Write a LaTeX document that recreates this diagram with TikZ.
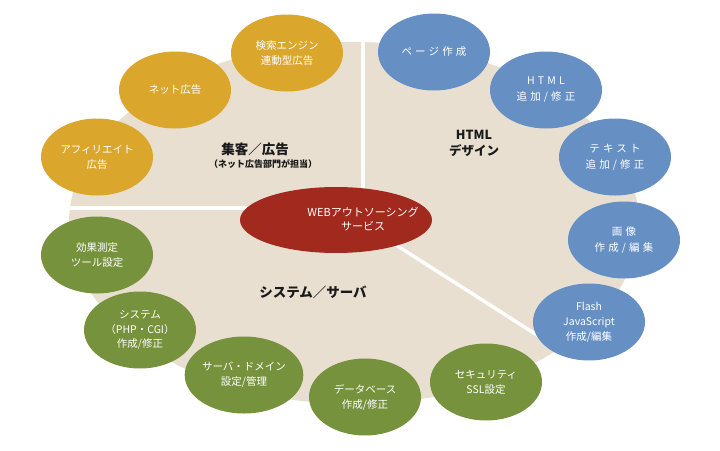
\documentclass[tikz,border=0pt]{standalone}
\usepackage{fontspec}
\setmainfont{Noto Sans CJK JP}
\newfontfamily\jpw[LetterSpace=30]{Noto Sans CJK JP}
\usetikzlibrary{shapes.geometric}
\definecolor{beige}{HTML}{E8DFD1}
\definecolor{gold}{HTML}{DAA62C}
\definecolor{bluenode}{HTML}{6690C4}
\definecolor{greennode}{HTML}{76923C}
\definecolor{rednode}{HTML}{A2291D}
\definecolor{labeltext}{HTML}{1A1A1A}
\begin{document}
\begin{tikzpicture}[x=1pt,y=-1pt,
 bubble/.style={ellipse, minimum width=112pt, minimum height=77pt, inner sep=0pt, text=white, align=center, font=\fontsize{10.5}{15}\selectfont},
 goldb/.style={bubble, fill=gold},
 blueb/.style={bubble, fill=bluenode, font=\jpw\fontsize{10.5}{16}\selectfont},
 greenb/.style={bubble, fill=greennode},
 sepline/.style={white, line width=3.5pt},
 region/.style={text=labeltext, align=center, font=\bfseries\fontsize{13.5}{16}\selectfont}]
\useasboundingbox (0,0) rectangle (720,450);
% base
\node[ellipse, fill=beige, minimum width=570pt, minimum height=362pt, inner sep=0pt] (base) at (354,223) {};
% separators
\coordinate (vA) at (363,0);
\coordinate (vB) at (363,215);
\coordinate (hA) at (0,208);
\coordinate (hB) at (300,208);
\coordinate (dA) at (360,222);
\coordinate (dB) at (620,388);
\begin{scope}
\clip (354,223) ellipse [x radius=285, y radius=181];
\draw[sepline] (vA) -- (vB);
\draw[sepline] (hA) -- (hB);
\draw[sepline] (dA) -- (dB);
\end{scope}
% core
\node[ellipse, fill=rednode, minimum width=192pt, minimum height=66pt, inner sep=0pt] (core) at (336,220) {};
\node[text=white, align=center, font=\fontsize{11}{14}\selectfont] (coretext) at (363,219) {WEBアウトソーシング\\サービス};
% gold
\node[goldb] (g1) at (287,53) {検索エンジン\\連動型広告};
\node[goldb] (g2) at (175,90) {ネット広告};
\node[goldb] (g3) at (97,157) {アフィリエイト\\広告};
% blue
\node[blueb] (b1) at (434,52) {ページ作成};
\node[blueb] (b2) at (546,90) {HTML\\追加/修正};
\node[blueb] (b3) at (615,157) {テキスト\\追加/修正};
\node[blueb] (b4) at (624,240) {画像\\作成/編集};
\node[bubble, fill=bluenode] (b5) at (589,322) {Flash\\JavaScript\\作成/編集};
% green
\node[greenb] (gr1) at (97,255) {効果測定\\ツール設定};
\node[greenb, font=\fontsize{10.5}{14.5}\selectfont] (gr2) at (140,330) {システム\\（PHP・CGI）\\作成/修正};
\node[greenb] (gr3) at (244,375) {サーバ・ドメイン\\設定/管理};
\node[greenb] (gr4) at (365,397) {データベース\\作成/修正};
\node[greenb] (gr5) at (486,382) {セキュリティ\\SSL設定};
% region labels
\node[region] (r1) at (255,149) {集客／広告};
\node[text=labeltext, font=\bfseries\fontsize{9}{10}\selectfont] (r1s) at (263,164) {（ネット広告部門が担当）};
\node[region, font=\bfseries\fontsize{12.5}{16}\selectfont] (r2) at (474,143) {HTML\\デザイン};
\node[region] (r3) at (313,292) {システム／サーバ};
\end{tikzpicture}
\end{document}
